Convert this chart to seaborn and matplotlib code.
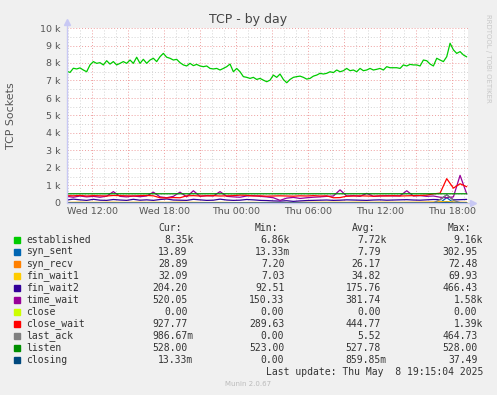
import numpy as np
import pandas as pd
import matplotlib
matplotlib.use("Agg")
import matplotlib.pyplot as plt
from matplotlib.patches import Rectangle
from matplotlib.ticker import FuncFormatter, MultipleLocator
import seaborn as sns

# hours counted from Wed 00:00
est_start, est_step = 9.889, 0.2778
low_start, low_step = 9.889, 0.5556

established_k = [
    7.54, 7.46, 7.70, 7.66, 7.72, 7.60, 7.50, 7.89, 8.08, 7.98,
    8.02, 7.89, 8.13, 7.94, 8.08, 7.89, 7.98, 8.08, 7.98, 8.17,
    7.98, 8.33, 7.98, 8.21, 7.98, 8.17, 8.27, 8.08, 8.36, 8.55,
    8.33, 8.27, 8.17, 8.21, 8.02, 7.89, 7.83, 7.98, 7.85, 7.92,
    7.83, 7.79, 7.83, 7.69, 7.66, 7.69, 7.60, 7.69, 7.79, 7.94,
    7.50, 7.69, 7.50, 7.22, 7.18, 7.12, 7.18, 7.06, 7.12, 7.02,
    6.93, 7.02, 7.31, 7.18, 7.37, 7.06, 6.87, 7.06, 7.18, 7.22,
    7.25, 7.18, 7.08, 7.12, 7.25, 7.31, 7.41, 7.37, 7.41, 7.50,
    7.45, 7.60, 7.50, 7.56, 7.69, 7.56, 7.60, 7.50, 7.69, 7.56,
    7.60, 7.69, 7.60, 7.64, 7.69, 7.60, 7.79, 7.73, 7.73, 7.73,
    7.69, 7.89, 7.83, 7.92, 7.89, 7.89, 7.83, 8.17, 8.13, 7.94,
    7.83, 8.27, 8.17, 8.08, 8.36, 9.13, 8.75, 8.55, 8.65, 8.46,
    8.35,
]

syn_sent = [8, 7, 9, 8, 7, 8, 9, 8, 7, 8, 8, 9, 8, 7, 8, 9, 8, 7, 8, 8,
            7, 6, 7, 6, 7, 6, 5, 6, 7, 6, 5, 6, 7, 6, 7, 8, 7, 8, 7, 8,
            8, 9, 8, 7, 8, 9, 8, 8, 9, 8, 9, 10, 9, 10, 12, 14, 20, 303, 25, 15,
            14]
syn_recv = [25, 28, 30, 26, 24, 28, 30, 27, 25, 26, 28, 30, 26, 24, 25, 28, 30, 32, 28, 26,
            24, 22, 20, 22, 24, 20, 18, 22, 24, 20, 22, 24, 20, 22, 24, 26, 25, 28, 30, 26,
            28, 30, 26, 28, 30, 28, 26, 28, 30, 28, 26, 28, 30, 32, 35, 40, 72, 50, 35, 30,
            29]
fin_wait1 = [30, 35, 40, 32, 38, 30, 36, 42, 34, 30, 38, 35, 33, 40, 36, 30, 34, 38, 32, 36,
             30, 28, 32, 35, 30, 28, 25, 30, 32, 28, 26, 30, 28, 32, 30, 34, 36, 38, 35, 40,
             38, 36, 34, 40, 42, 38, 36, 40, 38, 35, 36, 40, 38, 42, 45, 50, 60, 70, 55, 40,
             32]
fin_wait2 = [170, 220, 180, 150, 210, 160, 150, 200, 170, 150, 210, 160, 180, 150, 200, 230, 170, 160, 150, 210,
             180, 150, 160, 220, 170, 150, 160, 200, 180, 150, 140, 120, 110, 130, 93, 120, 140, 150, 160, 170,
             150, 160, 180, 170, 160, 150, 170, 180, 160, 170, 180, 190, 170, 160, 180, 200, 190, 466, 180, 190,
             204]
time_wait = [380, 330, 400, 350, 380, 330, 390, 650, 380, 350, 400, 360, 400, 620, 350, 300, 380, 620, 350, 700,
             380, 420, 400, 650, 380, 350, 330, 400, 420, 380, 350, 300, 150, 280, 320, 260, 300, 330, 350, 380,
             400, 750, 400, 420, 380, 550, 380, 400, 420, 400, 410, 700, 400, 420, 380, 400, 330, 300, 350, 1580,
             520]
close = [0] * 61
close_wait = [420, 410, 430, 400, 420, 410, 400, 430, 420, 410, 400, 420, 430, 410, 300, 290, 310, 300, 410, 420,
              400, 410, 420, 400, 410, 420, 450, 440, 400, 410, 390, 400, 410, 400, 390, 410, 400, 420, 400, 410,
              300, 310, 390, 400, 410, 400, 390, 410, 400, 420, 400, 410, 420, 430, 450, 520, 560, 1390, 850, 1100,
              928]
last_ack = [1, 2, 0, 1, 2, 1, 0, 1, 2, 1, 0, 1, 2, 1, 0, 1, 2, 1, 0, 1,
            1, 0, 1, 0, 1, 0, 0, 1, 0, 0, 1, 0, 1, 0, 1, 1, 0, 1, 1, 0,
            1, 2, 1, 0, 1, 2, 1, 0, 1, 2, 1, 2, 1, 2, 3, 5, 200, 465, 150, 20,
            1]
listen = [528, 528, 528, 528, 528, 528, 528, 528, 528, 528, 528, 528, 528, 528, 528, 528, 528, 528, 528, 528,
          528, 528, 528, 528, 528, 523, 528, 528, 528, 528, 528, 528, 528, 528, 528, 528, 528, 528, 528, 528,
          528, 528, 528, 528, 528, 528, 528, 528, 528, 528, 528, 528, 528, 528, 528, 528, 528, 528, 528, 528,
          528]
closing = [0, 0, 1, 0, 0, 0, 1, 0, 0, 0, 0, 1, 0, 0, 0, 0, 1, 0, 0, 0,
           0, 0, 0, 0, 1, 0, 0, 0, 0, 0, 0, 0, 0, 0, 0, 0, 0, 0, 0, 0,
           0, 0, 0, 1, 0, 0, 0, 0, 0, 0, 0, 0, 1, 0, 0, 2, 10, 37, 5, 1,
           0]

names = ["established", "syn_sent", "syn_recv", "fin_wait1", "fin_wait2", "time_wait",
         "close", "close_wait", "last_ack", "listen", "closing"]
colors = ["#00CC00", "#0066B3", "#FF8000", "#FFCC00", "#330099", "#990099",
          "#CCFF00", "#FF0000", "#808080", "#008F00", "#00487D"]
cur = [8350, 13.89, 28.89, 32.09, 204.20, 520.05, 0, 927.77, 0.98667, 528.00, 0.01333]
mins = [6860, 0.01333, 7.20, 7.03, 92.51, 150.33, 0, 289.63, 0, 523.00, 0]
avgs = [7720, 7.79, 26.17, 34.82, 175.76, 381.74, 0, 444.77, 5.52, 527.78, 0.85985]
maxs = [9160, 302.95, 72.48, 69.93, 466.43, 1580, 0, 1390, 464.73, 528.00, 37.49]

tick_hours = [12, 18, 24, 30, 36, 42]
tick_labels = ["Wed 12:00", "Wed 18:00", "Thu 00:00", "Thu 06:00", "Thu 12:00", "Thu 18:00"]

# long-form tables for seaborn
est_hours = est_start + est_step * np.arange(len(established_k))
df_est = pd.DataFrame({"hour": est_hours, "value": np.array(established_k) * 1000})

low_hours = low_start + low_step * np.arange(len(listen))
low_series = [syn_sent, syn_recv, fin_wait1, fin_wait2, time_wait, close,
              close_wait, last_ack, listen, closing]
df_low = pd.concat([
    pd.DataFrame({"hour": low_hours, "value": vals, "series": nm})
    for nm, vals in zip(names[1:], low_series)
])

sns.set_style("white")
bg = "#F0F0F0"
fig = plt.figure(figsize=(4.97, 3.95), dpi=100, facecolor=bg)
W, H = 497, 395
ax = fig.add_axes([66.5 / W, 1 - 203 / H, (468 - 66.5) / W, 175 / H])
ax.set_facecolor("white")

sns.lineplot(data=df_est, x="hour", y="value", color=colors[0], lw=0.9,
             estimator=None, ax=ax, zorder=3)
sns.lineplot(data=df_low, x="hour", y="value", hue="series", hue_order=names[1:],
             palette=colors[1:], lw=0.9, estimator=None, legend=False, ax=ax, zorder=3)

ax.set_xlim(9.875, 43.33)
ax.set_ylim(0, 10000)

# grid: red dotted majors, grey dotted minors
ax.xaxis.set_major_locator(MultipleLocator(3))
ax.xaxis.set_minor_locator(MultipleLocator(1))
ax.yaxis.set_major_locator(MultipleLocator(1000))
ax.yaxis.set_minor_locator(MultipleLocator(500))
ax.grid(which="minor", color="#D4D4D4", lw=0.7, ls=(0, (1, 2)), zorder=0)
ax.grid(which="major", color="#EE9E9E", lw=0.7, ls=(0, (1, 2)), zorder=1)
ax.xaxis.set_major_formatter(FuncFormatter(
    lambda v, p: tick_labels[tick_hours.index(round(v))] if round(v) in tick_hours else ""))
ax.yaxis.set_major_formatter(FuncFormatter(
    lambda v, p: "0" if v == 0 else f"{v / 1000:.0f} k"))
ax.tick_params(which="both", length=0, labelsize=6.8, colors="#555555")
ax.tick_params(axis="y", pad=4.5)
ax.tick_params(axis="x", pad=3)
ax.set_xlabel("")
ax.set_ylabel("TCP Sockets", fontsize=7.9, color="#555555")
ax.yaxis.set_label_coords(-50 / 401.5, 0.5)

for side in ["top", "right", "left", "bottom"]:
    ax.spines[side].set_visible(False)
axis_col = "#C8C8F4"
ax.plot([0, 0], [0, 1.035], transform=ax.transAxes, color=axis_col, lw=1, clip_on=False, zorder=5)
ax.plot([0, 1.012], [0, 0], transform=ax.transAxes, color=axis_col, lw=1, clip_on=False, zorder=5)
ax.plot([0], [1.035], marker="^", ms=4, color=axis_col, transform=ax.transAxes, clip_on=False, zorder=5)
ax.plot([1.012], [0], marker=">", ms=4, color=axis_col, transform=ax.transAxes, clip_on=False, zorder=5)


def px(x, y):
    return x / W, 1 - y / H


fig.text(*px(248, 19), "TCP - by day", ha="center", va="center", fontsize=9, color="#444444")
fig.text(*px(488, 58), "RRDTOOL / TOBI OETIKER", rotation=270, ha="center", va="center",
         fontsize=5, color="#C8C8C8")

# legend table
mono = "DejaVu Sans Mono"
fs = 7
cw = 5.85
col_end = [193.3, 290.2, 386.7, 483.2]
txt_col = "#333333"
for c, head in zip(col_end, ["Cur:", "Min:", "Avg:", "Max:"]):
    fig.text(*px(c - 2 * cw, 228.3), head, ha="right", va="center",
             family=mono, fontsize=fs, color=txt_col)


def fmt(v):
    if v >= 1000:
        return f"{v / 1000:.2f}k"
    if 0 < v < 1:
        return f"{v * 1000:.2f}m"
    return f"{v:.2f}"


for i, nm in enumerate(names):
    y = 239.7 + 12 * i
    fig.patches.append(Rectangle(px(14, y + 3), 6 / W, 6 / H, color=colors[i],
                                 transform=fig.transFigure, figure=fig))
    fig.text(*px(26.3, y), nm, ha="left", va="center", family=mono, fontsize=fs, color=txt_col)
    for c, v in zip(col_end, [cur[i], mins[i], avgs[i], maxs[i]]):
        s = fmt(v)
        x = c if s[-1] in "km" else c - cw
        fig.text(*px(x, y), s, ha="right", va="center", family=mono, fontsize=fs, color=txt_col)

fig.text(*px(483.2, 371.7), "Last update: Thu May  8 19:15:04 2025", ha="right", va="center",
         family=mono, fontsize=fs, color=txt_col)
fig.text(*px(248, 384), "Munin 2.0.67", ha="center", va="center", fontsize=5, color="#BBBBBB")

fig.savefig("out.png", dpi=100, facecolor=bg)
